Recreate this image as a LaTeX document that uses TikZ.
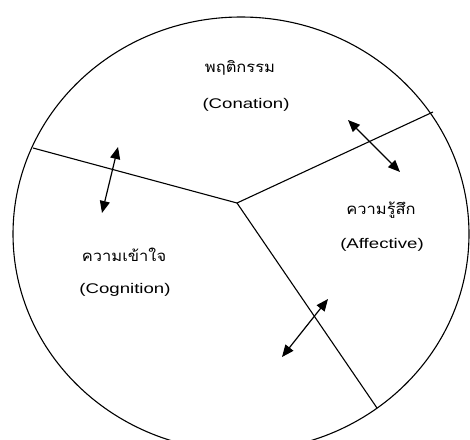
\documentclass[tikz,border=0pt]{standalone}
\usepackage{fontspec}
\setmainfont{Liberation Sans}
\newfontfamily\thaifont[Script=Thai]{Loma}
\usetikzlibrary{arrows.meta}

\begin{document}
\begin{tikzpicture}
[
	x=1pt,
	y=-1pt,
	divider/.style={line width=1.1pt},
	twoway/.style={line width=1.2pt, {Triangle[length=12pt,width=10pt]}-{Triangle[length=12pt,width=10pt]}},
	thaitext/.style={font=\thaifont\fontsize{15}{17}\selectfont, inner sep=0pt, xscale=1.1},
	engtext/.style={font=\fontsize{14}{16}\selectfont, inner sep=0pt, xscale=1.33}
]

	\useasboundingbox (0,0) rectangle (470,439);

	% outer boundary
	\draw[line width=1.1pt] (241,234) ellipse [x radius=228, y radius=217];

	% three sectors
	\coordinate (hub) at (237,203);
	\coordinate (leftend) at (33,148);
	\coordinate (rightend) at (433,112);
	\coordinate (bottomend) at (377,408);
	\draw[divider] (hub) -- (leftend);
	\draw[divider] (hub) -- (rightend);
	\draw[divider] (hub) -- (bottomend);

	% labels
	\node[thaitext] (conth) at (240,68) {พฤติกรรม};
	\node[engtext] (conen) at (246,105) {(Conation)};
	\node[thaitext] (cogth) at (124,255) {ความเข้าใจ};
	\node[engtext] (cogen) at (125,290) {(Cognition)};
	\node[thaitext] (affth) at (381,210) {ความรู้สึก};
	\node[engtext] (affen) at (382,245) {(Affective)};

	% interactions
	\coordinate (cogtop) at (118,147);
	\coordinate (cogbot) at (102,213);
	\coordinate (contop) at (348,120);
	\coordinate (conbot) at (400,172);
	\coordinate (afftop) at (328,299);
	\coordinate (affbot) at (282,357);
	\draw[twoway] (cogtop) -- (cogbot);
	\draw[twoway] (contop) -- (conbot);
	\draw[twoway] (afftop) -- (affbot);

\end{tikzpicture}
\end{document}
